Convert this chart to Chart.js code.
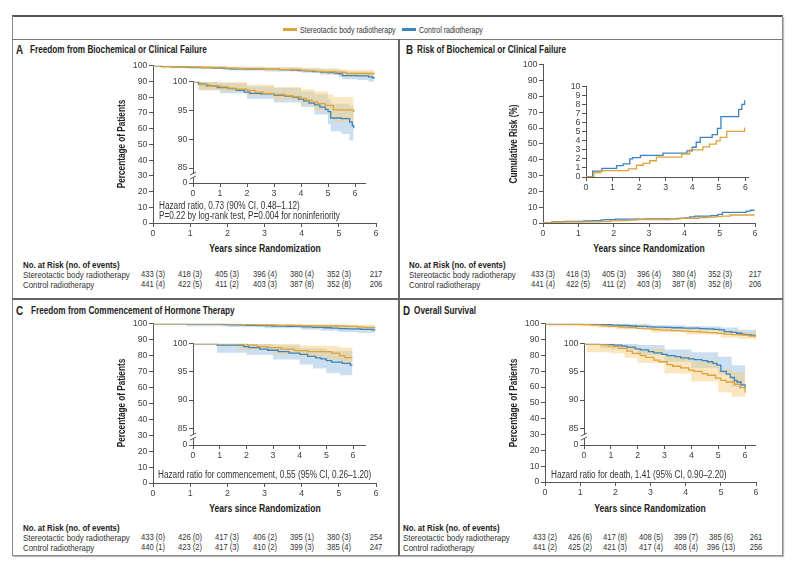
<!DOCTYPE html>
<html><head><meta charset="utf-8">
<script src="https://cdn.jsdelivr.net/npm/chart.js@4.4.1/dist/chart.umd.min.js"></script>
<style>
body{margin:0;width:800px;height:564px;background:#fff;position:relative;overflow:hidden;font-family:'Liberation Sans',Arial,sans-serif;color:#333}
.t{position:absolute;white-space:nowrap;transform-origin:0 50%;transform:translateY(-50%) scaleX(.82);line-height:1}
.c{transform-origin:50% 50%;transform:translate(-50%,-50%) scaleX(.82)}
.b{font-weight:bold;color:#222}
.ln{position:absolute}
canvas{position:absolute}
.rot{transform-origin:50% 50%;transform:translate(-50%,-50%) rotate(-90deg) scaleX(.82)}
</style></head><body>
<script>
// ---------- DATA ----------
const years = [0, 1, 2, 3, 4, 5, 6];
const yTicksMain = [0, 10, 20, 30, 40, 50, 60, 70, 80, 90, 100];
const yTicksRiskInset = [0, 1, 2, 3, 4, 5, 6, 7, 8, 9, 10];
const seriesNames = ['Stereotactic body radiotherapy', 'Control radiotherapy'];

// Panel A: freedom from biochemical or clinical failure (%), [year, value]
const aSbrt = [[0,100],[0.25,99.5],[0.6,99.3],[1.0,99.1],[1.3,98.9],[1.6,98.7],[2.0,98.5],[2.3,98.2],[2.6,98.0],[3.0,97.8],[3.4,97.6],[3.7,97.4],[4.0,97.1],[4.2,96.8],[4.4,96.5],[4.6,96.2],[4.9,95.9],[5.2,95.1],[5.9,95.1],[5.95,94.7]];
const aSbrtHi = [[0,100],[1.0,99.9],[2.0,99.5],[3.0,99.1],[4.0,98.7],[4.5,98.3],[5.0,97.8],[5.2,97.3],[5.95,97.2]];
const aSbrtLo = [[0,100],[0.25,98.5],[1.0,98.3],[2.0,97.6],[3.0,96.8],[4.0,96.0],[4.5,95.0],[5.0,94.0],[5.2,93.0],[5.95,92.5]];
const aCtrl = [[0,100],[0.2,99.6],[0.5,99.3],[0.9,99.0],[1.3,98.8],[1.6,98.5],[1.9,98.2],[2.1,98.0],[2.5,97.9],[3.0,97.7],[3.4,97.5],[3.7,97.3],[3.9,97.0],[4.1,96.7],[4.3,96.3],[4.5,96.0],[4.7,95.6],[4.9,95.2],[5.0,94.8],[5.1,93.7],[5.5,93.6],[5.8,93.0],[5.9,92.4],[5.95,91.9]];
const aCtrlHi = [[0,100],[0.9,99.8],[2.0,99.2],[3.0,98.9],[4.0,98.3],[4.5,97.8],[5.0,97.0],[5.1,96.2],[5.8,95.8],[5.95,95.0]];
const aCtrlLo = [[0,100],[0.2,98.6],[1.0,98.0],[2.0,97.0],[3.0,96.4],[4.0,95.6],[4.5,94.3],[5.0,92.6],[5.1,91.4],[5.5,90.9],[5.8,89.8],[5.95,88.5]];

// Panel B: cumulative risk of biochemical or clinical failure (%)
const bSbrt = [[0,0],[0.3,0.5],[0.55,0.7],[1.6,0.9],[1.9,1.3],[2.15,1.5],[2.4,1.8],[2.65,2.2],[3.6,2.55],[3.9,3.0],[4.4,3.35],[4.65,3.65],[4.9,4.0],[5.05,4.4],[5.3,5.05],[5.93,5.05],[5.97,5.5]];
const bCtrl = [[0,0],[0.25,0.65],[0.6,0.95],[1.15,1.25],[1.4,1.45],[1.65,2.0],[1.75,2.15],[2.05,2.4],[2.9,2.65],[3.8,2.9],[4.0,3.3],[4.15,3.85],[4.3,4.4],[4.75,4.7],[4.95,5.4],[5.08,6.7],[5.75,7.5],[5.87,8.05],[5.97,8.5]];

// Panel C: freedom from commencement of hormone therapy (%)
const cSbrt = [[0,100],[2.05,99.75],[2.4,99.5],[2.8,99.3],[3.3,99.05],[3.8,98.8],[4.3,98.6],[5.2,98.35],[5.5,97.85],[5.7,97.55],[5.98,97.55]];
const cSbrtHi = [[0,100],[2.05,100],[4.0,99.7],[5.0,99.6],[5.5,99.3],[5.98,99.2]];
const cSbrtLo = [[0,100],[1.7,99.0],[3.0,98.2],[4.0,97.6],[5.0,97.2],[5.5,96.4],[5.98,95.8]];
const cCtrl = [[0,100],[0.9,99.75],[1.9,99.5],[2.1,99.3],[2.5,99.05],[2.8,98.85],[3.2,98.6],[3.6,98.35],[4.0,98.1],[4.3,97.75],[4.6,97.5],[4.8,97.3],[5.0,97.0],[5.2,96.75],[5.6,96.5],[5.9,96.2],[5.98,96.2]];
const cCtrlHi = [[0,100],[2.0,100],[3.0,99.7],[4.0,99.2],[5.0,98.7],[5.98,98.3]];
const cCtrlLo = [[0,100],[0.9,98.4],[2.0,98.0],[3.0,97.2],[4.0,96.3],[4.5,95.6],[5.0,94.8],[5.5,94.4],[5.98,93.8]];

// Panel D: overall survival (%)
const dSbrt = [[0,100],[0.3,99.95],[0.6,99.8],[0.9,99.6],[1.1,99.5],[1.3,99.2],[1.6,98.7],[1.8,98.3],[2.1,97.9],[2.3,97.6],[2.6,97.1],[2.8,96.8],[3.1,96.3],[3.3,96.0],[3.6,95.7],[3.9,95.3],[4.1,95.1],[4.4,94.7],[4.6,94.4],[4.9,93.9],[5.1,93.5],[5.3,93.2],[5.6,92.8],[5.8,92.2],[6.0,91.3]];
const dSbrtHi = [[0,100],[1.0,100],[1.5,99.6],[2.0,99.1],[3.0,97.9],[4.0,97.0],[5.0,95.5],[5.5,95.0],[6.0,94.0]];
const dSbrtLo = [[0,100],[0.1,98.5],[1.0,98.3],[1.5,97.5],[2.0,96.6],[3.0,94.7],[4.0,93.3],[5.0,91.4],[5.5,90.6],[6.0,88.6]];
const dCtrl = [[0,100],[0.6,99.9],[1.1,99.75],[1.4,99.6],[1.6,99.4],[1.9,99.1],[2.1,98.9],[2.4,98.6],[2.6,98.4],[2.9,98.1],[3.1,97.9],[3.4,97.7],[3.6,97.5],[3.9,97.3],[4.1,97.2],[4.4,97.0],[4.6,96.8],[4.8,96.5],[4.95,96.2],[5.1,95.1],[5.3,94.6],[5.45,94.0],[5.6,93.5],[5.7,93.2],[5.85,92.7],[6.0,92.2]];
const dCtrlHi = [[0,100],[2.0,99.8],[3.0,99.0],[4.0,98.5],[5.0,97.7],[5.5,96.2],[6.0,94.5]];
const dCtrlLo = [[0,100],[0.6,99.2],[1.0,99.0],[2.0,98.0],[3.0,96.8],[4.0,95.7],[5.0,94.6],[5.5,92.3],[6.0,89.9]];

// Number at risk (no. of events)
const riskA_sbrt = ['433 (3)','418 (3)','405 (3)','396 (4)','380 (4)','352 (3)','217'];
const riskA_ctrl = ['441 (4)','422 (5)','411 (2)','403 (3)','387 (8)','352 (8)','206'];
const riskB_sbrt = ['433 (3)','418 (3)','405 (3)','396 (4)','380 (4)','352 (3)','217'];
const riskB_ctrl = ['441 (4)','422 (5)','411 (2)','403 (3)','387 (8)','352 (8)','206'];
const riskC_sbrt = ['433 (0)','426 (0)','417 (3)','406 (2)','395 (1)','380 (3)','254'];
const riskC_ctrl = ['440 (1)','423 (2)','417 (3)','410 (2)','399 (3)','385 (4)','247'];
const riskD_sbrt = ['433 (2)','426 (6)','417 (8)','408 (5)','399 (7)','385 (6)','261'];
const riskD_ctrl = ['441 (2)','425 (2)','421 (3)','417 (4)','408 (4)','396 (13)','256'];

// ---------- STYLE ----------
const F = "'Liberation Sans',Arial,sans-serif";
Chart.defaults.font.family = F;
const SB = '#E0A23A', CT = '#3C84BF';
const SBF = 'rgba(246,206,128,0.5)', CTF = 'rgba(140,184,222,0.45)';

function el(tag, css, cls, text){const e=document.createElement(tag);if(cls)e.className=cls;if(css)e.style.cssText=css;if(text!=null)e.textContent=text;document.body.appendChild(e);return e;}
function box(l,t,w,h,bg){return el('div',`left:${l}px;top:${t}px;width:${w}px;height:${h}px;background:${bg}`,'ln');}
function txt(x,y,s,size,cls,extra){return el('div',`left:${x}px;top:${y}px;font-size:${size}px;${extra||''}`,'t '+(cls||''),s);}

// frame
box(12,15,771,2,'#555');
el('div','left:12px;top:16px;width:769px;height:539px;border:1px solid #8a8a8a;border-top:none;box-shadow:1px 1px 1px #bbb','ln');
box(12,39,771,1,'#777');
box(398,39,2,517,'#666');
box(12,298,771,2,'#666');

// legend
box(283,28,14,3,SB); txt(300,29.5,seriesNames[0],8.6);
box(402,28,14,3,CT); txt(419,29.5,seriesNames[1],8.6);

function pts(a){return a.map(p=>({x:p[0],y:p[1]}));}
function line(a,c){return {data:pts(a),borderColor:c,borderWidth:1.3,stepped:true,pointRadius:0,fill:false,order:0};}
function band(hi,lo,c){return [
  {data:pts(hi),borderColor:'rgba(0,0,0,0)',borderWidth:0,stepped:true,pointRadius:0,fill:false,order:2},
  {data:pts(lo),borderColor:'rgba(0,0,0,0)',borderWidth:0,stepped:true,pointRadius:0,fill:'-1',backgroundColor:c,order:2}];}

const brk = {id:'brk', afterDraw(ch){
  const ctx=ch.ctx, xl=ch.chartArea.left, y=ch.scales.y;
  const yb=(y.getPixelForValue(85)+ch.chartArea.bottom)/2;
  ctx.save(); ctx.fillStyle='#fff'; ctx.fillRect(xl-2,yb-1.5,4,3);
  ctx.strokeStyle='#555'; ctx.lineWidth=1; ctx.beginPath();
  ctx.moveTo(xl-3,yb-0.5); ctx.lineTo(xl+3,yb-3.5);
  ctx.moveTo(xl-3,yb+3.5); ctx.lineTo(xl+3,yb+0.5);
  ctx.stroke(); ctx.restore();
}};

function mk(a,o){
  const c=document.createElement('canvas');
  const W=o.yw+(a.r-a.l)+o.pr, H=o.pt+(a.b-a.t)+o.xh;
  c.width=W; c.height=H;
  c.style.cssText=`left:${a.l-o.yw}px;top:${a.t-o.pt}px;width:${W}px;height:${H}px`;
  document.body.appendChild(c);
  const axis=(min,max,ticks,fit,cb)=>({type:'linear',min,max,
    afterBuildTicks:s=>{s.ticks=ticks.map(v=>({value:v}));},
    afterFit:fit,
    grid:{drawOnChartArea:false,drawTicks:true,tickLength:4,color:'#555',lineWidth:1},
    border:{display:true,color:'#555',width:1},
    ticks:{autoSkip:false,maxRotation:0,padding:1.5,font:{size:8.8},color:'#444',callback:cb||(v=>String(v))}});
  const ch=new Chart(c,{type:'line',data:{datasets:o.ds},options:{responsive:false,animation:false,events:[],
    layout:{padding:{left:0,top:o.pt,right:o.pr,bottom:0}},
    plugins:{legend:{display:false},tooltip:{enabled:false}},
    scales:{x:axis(0,o.xmax,years,s=>{s.height=o.xh;}),
            y:axis(o.ymin,o.ymax,o.yt,s=>{s.width=o.yw;},o.ycb)}},
    plugins:o.plugins||[]});
  ch._left=a.l-o.yw;
  return ch;
}
const insetCb = v => v < 84 ? '0' : String(v);
function kmSets(s,sh,sl,c,chh,cl){return [...band(sh,sl,SBF),...band(chh,cl,CTF),line(s,SB),line(c,CT)];}

function risk(ch,x0,yh,rows){
  txt(x0,yh,'No. at Risk (no. of events)',9.6,'b');
  rows.forEach((arr,i)=>{
    const y=yh+9.8*(i+1);
    txt(x0,y,seriesNames[i],9.6);
    arr.forEach((s,j)=>{ txt(ch._left+ch.scales.x.getPixelForValue(years[j]),y,s,9.3,'c'); });
  });
}

// ----- Panel A -----
txt(16,50,'A',12,'b'); txt(30,50,'Freedom from Biochemical or Clinical Failure',10,'b');
const chA=mk({l:153,r:376,t:65,b:223},{yw:30,xh:18,pt:6,pr:8,xmax:6,ymin:0,ymax:100,yt:yTicksMain,ds:kmSets(aSbrt,aSbrtHi,aSbrtLo,aCtrl,aCtrlHi,aCtrlLo)});
mk({l:193,r:365,t:81,b:183},{yw:24,xh:16,pt:6,pr:4,xmax:6.37,ymin:82.4,ymax:100,yt:[82.4,85,90,95,100],ycb:insetCb,ds:kmSets(aSbrt,aSbrtHi,aSbrtLo,aCtrl,aCtrlHi,aCtrlLo),plugins:[brk]});
txt(122,144,'Percentage of Patients',10,'b rot');
txt(264.5,247.5,'Years since Randomization',10.5,'b c');
txt(159,206,'Hazard ratio, 0.73 (90% CI, 0.48\u20131.12)',10);
txt(159,216,'P=0.22 by log-rank test, P=0.004 for noninferiority',10);
risk(chA,23,265,[riskA_sbrt,riskA_ctrl]);

// ----- Panel B -----
txt(406,50,'B',12,'b'); txt(417,50,'Risk of Biochemical or Clinical Failure',10,'b');
const chB=mk({l:543,r:755,t:64,b:223},{yw:30,xh:18,pt:6,pr:8,xmax:6,ymin:0,ymax:100,yt:yTicksMain,ds:[line(bSbrt,SB),line(bCtrl,CT)]});
mk({l:586,r:748,t:86,b:177},{yw:24,xh:16,pt:6,pr:4,xmax:6.1,ymin:0,ymax:10,yt:yTicksRiskInset,ds:[line(bSbrt,SB),line(bCtrl,CT)]});
txt(514,144,'Cumulative Risk (%)',10,'b rot');
txt(649,247.5,'Years since Randomization',10.5,'b c');
risk(chB,409,265,[riskB_sbrt,riskB_ctrl]);

// ----- Panel C -----
txt(16,311,'C',12,'b'); txt(31,311,'Freedom from Commencement of Hormone Therapy',10,'b');
const chC=mk({l:153,r:376,t:323,b:483},{yw:30,xh:18,pt:6,pr:8,xmax:6,ymin:0,ymax:100,yt:yTicksMain,ds:kmSets(cSbrt,cSbrtHi,cSbrtLo,cCtrl,cCtrlHi,cCtrlLo)});
mk({l:193,r:365,t:343,b:445},{yw:24,xh:16,pt:6,pr:4,xmax:6.45,ymin:82,ymax:100,yt:[82,85,90,95,100],ycb:insetCb,ds:kmSets(cSbrt,cSbrtHi,cSbrtLo,cCtrl,cCtrlHi,cCtrlLo),plugins:[brk]});
txt(122,403,'Percentage of Patients',10,'b rot');
txt(264.5,508,'Years since Randomization',10.5,'b c');
txt(158,475,'Hazard ratio for commencement, 0.55 (95% CI, 0.26\u20131.20)',10);
risk(chC,23,528,[riskC_sbrt,riskC_ctrl]);

// ----- Panel D -----
txt(403,311,'D',12,'b'); txt(414,311,'Overall Survival',10,'b');
const chD=mk({l:545,r:756,t:323,b:482},{yw:30,xh:18,pt:6,pr:8,xmax:6,ymin:0,ymax:100,yt:yTicksMain,ds:kmSets(dSbrt,dSbrtHi,dSbrtLo,dCtrl,dCtrlHi,dCtrlLo)});
mk({l:584,r:755,t:343,b:445},{yw:24,xh:16,pt:6,pr:4,xmax:6.37,ymin:82,ymax:100,yt:[82,85,90,95,100],ycb:insetCb,ds:kmSets(dSbrt,dSbrtHi,dSbrtLo,dCtrl,dCtrlHi,dCtrlLo),plugins:[brk]});
txt(514,403,'Percentage of Patients',10,'b rot');
txt(650,508,'Years since Randomization',10.5,'b c');
txt(551,475,'Hazard ratio for death, 1.41 (95% CI, 0.90\u20132.20)',10);
risk(chD,403,528,[riskD_sbrt,riskD_ctrl]);
</script>
</body></html>
